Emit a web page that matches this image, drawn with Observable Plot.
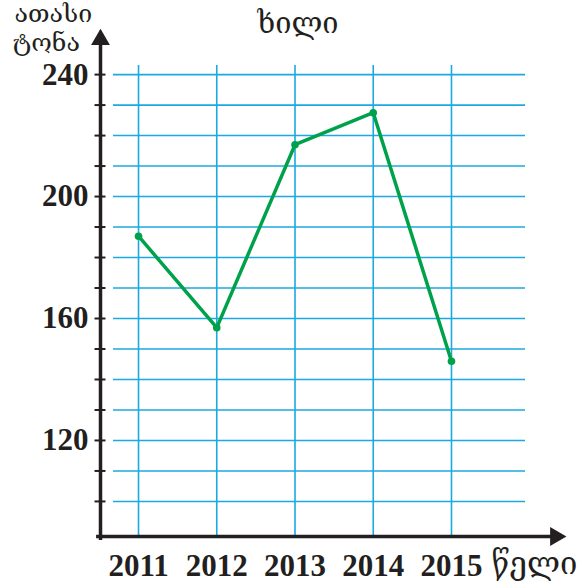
<!DOCTYPE html>
<html><head><meta charset="utf-8">
<script src="https://cdn.jsdelivr.net/npm/d3@7"></script>
<script src="https://cdn.jsdelivr.net/npm/@observablehq/plot@0.6"></script>
<style>body{margin:0;background:#fff}</style></head>
<body><div id="chart"></div>
<script>
const years = [2011, 2012, 2013, 2014, 2015];
const values = [187, 157, 217, 227.5, 146];
const yTickLabels = [120, 160, 200, 240];
const minorTicks = [100, 110, 120, 130, 140, 150, 160, 170, 180, 190, 200, 210, 220, 230, 240];
const titleText = "ხილი";
const yLabel1 = "ათასი";
const yLabel2 = "ტონა";
const xLabel = "წელი";

const data = years.map((y, i) => ({year: y, value: values[i]}));

const XL = 2010.514;   // y-axis position
const XR = 2015.946;   // end of grid
const YB = 88.5;       // x-axis position
const blue = "#1ba9e1";
const green = "#00a14b";
const serif = "Liberation Serif, DejaVu Serif, serif";
const geo = "DejaVu Serif, DejaVu Sans, sans-serif";

const chart = Plot.plot({
  width: 580,
  height: 587,
  marginLeft: 100,
  marginRight: 55,
  marginTop: 0,
  marginBottom: 51,
  x: {domain: [XL, XR], axis: null},
  y: {domain: [YB, 264.3], axis: null},
  marks: [
    Plot.ruleY(minorTicks, {y: d => d, x1: 2010.68, x2: XR, stroke: blue, strokeWidth: 1.6}),
    Plot.ruleX(years, {x: d => d, y1: YB, y2: 243, stroke: blue, strokeWidth: 1.6}),
    // axes
    Plot.ruleX([XL], {x: d => d, y1: 87.2, y2: 250, stroke: "#231f20", strokeWidth: 3.5}),
    Plot.ruleY([YB], {y: d => d, x1: XL - 0.05, x2: 2016.3, stroke: "#231f20", strokeWidth: 3.5}),
    Plot.dot([[XL, 251.5]], {x: d => d[0], y: d => d[1], symbol: "triangle", r: 7, fill: "#231f20", stroke: "none"}),
    Plot.dot([[2016.33, YB]], {x: d => d[0], y: d => d[1], symbol: "triangle", r: 7, rotate: 90, fill: "#231f20", stroke: "none"}),
    Plot.ruleY(minorTicks, {y: d => d, x1: XL - 0.07, x2: XL + 0.07, stroke: "#231f20", strokeWidth: 2}),
    // tick labels
    Plot.text(yTickLabels, {x: XL, y: d => d, dx: -12, textAnchor: "end", text: d => String(d), fontSize: 31, fontWeight: "bold", fontFamily: serif, fill: "#231f20"}),
    Plot.text(years, {x: d => d, y: YB, dy: 30, text: d => String(d), fontSize: 31, fontWeight: "bold", fontFamily: serif, fill: "#231f20"}),
    // data
    Plot.line(data, {x: "year", y: "value", stroke: green, strokeWidth: 3.5}),
    Plot.dot(data, {x: "year", y: "value", r: 3.8, fill: green, stroke: "none"}),
    // labels
    Plot.text([xLabel], {x: 2015, y: YB, dx: 83, dy: 28, text: d => d, fontSize: 31, fontFamily: geo, fill: "#231f20"}),
    Plot.text([titleText], {frameAnchor: "top", dx: -15, dy: 12, textAnchor: "middle", text: d => d, fontSize: 29, fontFamily: geo, fill: "#231f20"}),
    Plot.text([yLabel1], {frameAnchor: "top-left", dx: -86, dy: 4, textAnchor: "start", text: d => d, fontSize: 25, fontFamily: geo, fill: "#231f20"}),
    Plot.text([yLabel2], {frameAnchor: "top-left", dx: -88, dy: 33, textAnchor: "start", text: d => d, fontSize: 25, fontFamily: geo, fill: "#231f20"})
  ]
});
document.getElementById("chart").appendChild(chart);
</script>
</body></html>
